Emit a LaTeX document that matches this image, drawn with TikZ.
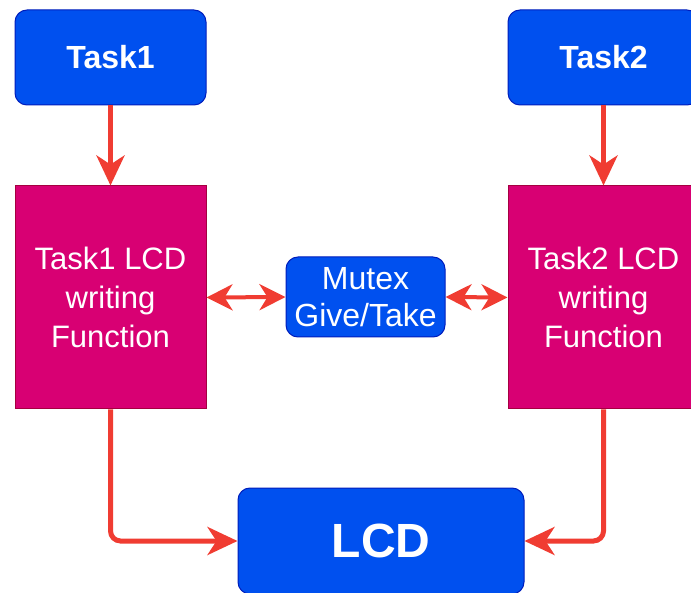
\documentclass[tikz,border=0pt]{standalone}
\usepackage{fontspec}
\setmainfont{Liberation Sans}
\usetikzlibrary{arrows.meta,positioning}

\definecolor{taskblue}{HTML}{0050EF}
\definecolor{taskedge}{HTML}{001DBC}
\definecolor{fnpink}{HTML}{D80073}
\definecolor{fnedge}{HTML}{A50040}
\definecolor{arrred}{HTML}{F03C32}

\begin{document}
\begin{tikzpicture}[
  x=1pt, y=-1pt,
  node distance=80pt,
  taskbox/.style={draw=taskedge, fill=taskblue, rounded corners=12pt, text=white, line width=1pt,
    align=center, inner sep=0pt},
  fnbox/.style={draw=fnedge, fill=fnpink, text=white, line width=1pt, align=center, inner sep=0pt,
    minimum width=191pt, minimum height=223pt, font=\fontsize{31}{39}\selectfont},
  arr/.style={-{Stealth[length=30pt, width=28pt, inset=9pt]}, draw=arrred, line width=5pt},
  dblarr/.style={{Stealth[length=26pt, width=26pt, inset=8pt]}-{Stealth[length=26pt, width=26pt, inset=8pt]},
    draw=arrred, line width=4pt}
]
\useasboundingbox (0,0) rectangle (691,593);
\fill[white] (0,0) rectangle (691,593);

\node[taskbox, minimum width=191pt, minimum height=95pt, font=\fontsize{32}{37}\selectfont\bfseries]
  (task1) at (110.5,57.5) {Task1};
\node[taskbox, minimum width=191pt, minimum height=95pt, font=\fontsize{32}{37}\selectfont\bfseries]
  (task2) at (603.5,57.5) {Task2};
\node[fnbox, below=of task1] (fn1) {Task1 LCD\\writing\\Function};
\node[fnbox, below=of task2] (fn2) {Task2 LCD\\writing\\Function};
\node[taskbox, minimum width=159pt, minimum height=80pt, font=\fontsize{32}{37}\selectfont]
  (mutex) at (365.5,297) {Mutex\\Give/Take};
\node[taskbox, minimum width=286pt, minimum height=106pt, font=\fontsize{48}{55}\selectfont\bfseries]
  (lcd) at (381,541) {LCD};

\draw[arr] (task1) -- (fn1);
\draw[arr] (task2) -- (fn2);
\draw[dblarr] (fn1.east) -- (mutex.west);
\draw[dblarr] (mutex.east) -- (fn2.west);
\draw[arr, rounded corners=10pt] (fn1.south) |- (lcd.west);
\draw[arr, rounded corners=10pt] (fn2.south) |- (lcd.east);
\end{tikzpicture}
\end{document}
